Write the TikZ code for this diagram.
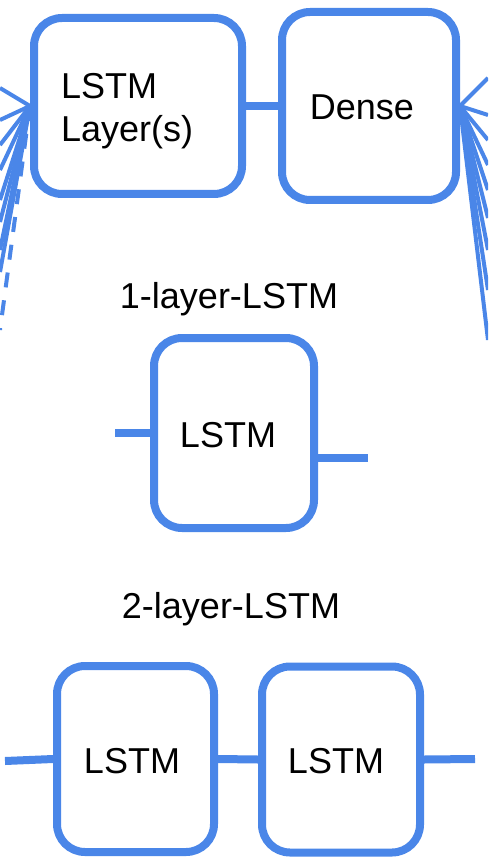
\documentclass[tikz,border=0pt]{standalone}
\usepackage{fontspec}
\setmainfont{Liberation Sans}
\definecolor{gblue}{HTML}{4A86E8}
\begin{document}
\begin{tikzpicture}[x=1pt,y=-1pt,
  box/.style={draw=gblue,line width=8pt,rounded corners=28pt,inner sep=0pt,fill=white},
  wire/.style={draw=gblue,line width=8pt},
  fan/.style={draw=gblue,line width=4pt},
  lbl/.style={font=\fontsize{36}{43}\selectfont,inner sep=0pt,text=black}]
\useasboundingbox (0,0) rectangle (488,866);
\clip (0,0) rectangle (488,866);
% top row
\node[box,minimum width=208pt,minimum height=176pt] (lstm) at (138,106) {};
\node[box,minimum width=174pt,minimum height=188pt] (dense) at (369,106) {};
\node[lbl,align=left,anchor=north west] (lstmT) at (61,73) {LSTM\\Layer(s)};
\node[lbl,anchor=base] (denseT) at (362,120) {Dense};
\draw[wire] (lstm.east) -- (dense.west);
% left fan
\foreach \y [count=\i] in {88,120,145,170,200,222,250,272}{
  \coordinate (lf\i) at (0,\y);
  \draw[fan] (lstm.west) -- (lf\i);
}
\coordinate (lfd) at (0,330);
\draw[fan,dash pattern=on 15pt off 13pt] (lstm.west) -- (lfd);
% right fan
\foreach \y [count=\i] in {78,115,140,165,190,218,250,290,340}{
  \coordinate (rf\i) at (488,\y);
  \draw[fan] (dense.east) -- (rf\i);
}
% 1-layer
\node[lbl,anchor=base] (t1) at (229,308) {1-layer-LSTM};
\node[box,minimum width=160pt,minimum height=190pt] (one) at (234,433) {};
\node[lbl,anchor=base] (oneT) at (228,447) {LSTM};
\coordinate (oneL) at (115,433);
\coordinate (oneR) at (368,458);
\draw[wire] (oneL) -- (one.west);
\draw[wire] (one.east |- oneR) -- (oneR);
% 2-layer
\node[lbl,anchor=base] (t2) at (231,618) {2-layer-LSTM};
\node[box,minimum width=157pt,minimum height=186pt] (b1) at (135.5,759) {};
\node[box,minimum width=158pt,minimum height=186pt] (b2) at (341,759.5) {};
\node[lbl,anchor=base] (b1T) at (132,773) {LSTM};
\node[lbl,anchor=base] (b2T) at (336,773) {LSTM};
\coordinate (twoL) at (5,761);
\coordinate (twoR) at (475,759);
\draw[wire] (twoL) -- (b1.west);
\draw[wire] (b1.east) -- (b2.west);
\draw[wire] (b2.east) -- (twoR);
\end{tikzpicture}
\end{document}
